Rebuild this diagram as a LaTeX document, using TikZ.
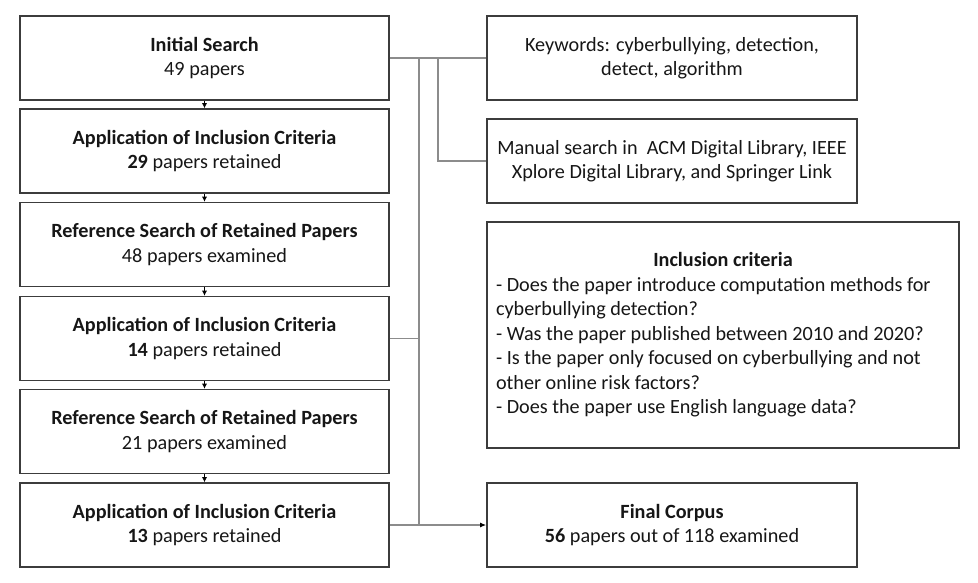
\documentclass[tikz,border=0pt]{standalone}
\usepackage{fontspec}
\setmainfont{Carlito}
\usetikzlibrary{arrows.meta}
\definecolor{boxline}{HTML}{3C3C3C}
\definecolor{linkline}{HTML}{8C8C8C}
\definecolor{txt}{HTML}{161616}
\begin{document}
\begin{tikzpicture}[x=1pt,y=-1pt,
  boxtext/.style={text=txt, font=\fontsize{20.2}{24.5}\selectfont, inner sep=0pt},
  stage/.style={boxtext, draw=boxline, line width=1.6pt, minimum width=369pt, minimum height=84pt,
    align=center},
  side/.style={boxtext, draw=boxline, line width=1.6pt, minimum width=370pt, minimum height=84pt,
    align=center},
  link/.style={draw=linkline, line width=1.2pt},
  flow/.style={draw=black, line width=0.6pt, -{Latex[length=5pt,width=5pt]}},
  endarrow/.style={draw=linkline, line width=1.2pt, -{Latex[length=6pt,width=5pt,fill=black,color=black]}}
]
\useasboundingbox (0,0) rectangle (978,582);

% search pipeline
\node[stage] (s1) at (204.5,58)    {\textbf{Initial Search}\\49 papers};
\node[stage] (s2) at (204.5,151)   {\textbf{Application of Inclusion Criteria}\\\textbf{29} papers retained};
\node[stage] (s3) at (204.5,244.5) {\textbf{Reference Search of Retained Papers}\\48 papers examined};
\node[stage] (s4) at (204.5,338.5) {\textbf{Application of Inclusion Criteria}\\\textbf{14} papers retained};
\node[stage] (s5) at (204.5,431.5) {\textbf{Reference Search of Retained Papers}\\21 papers examined};
\node[stage] (s6) at (204.5,525)   {\textbf{Application of Inclusion Criteria}\\\textbf{13} papers retained};

% side notes
\node[side] (kw) at (672,58)  {Keywords: cyberbullying, detection,\\detect, algorithm};
\node[side] (ms) at (672,161) {Manual search in\ \ ACM Digital Library, IEEE\\Xplore Digital Library, and Springer Link};
\node[boxtext, draw=boxline, line width=1.6pt, minimum height=226pt, text width=454pt,
      inner xsep=9pt, align=flush left] (ic) at (723,335)
  {\makebox[454pt][c]{\textbf{Inclusion criteria}}\\
   - Does the paper introduce computation methods for\\
   cyberbullying detection?\\
   - Was the paper published between 2010 and 2020?\\
   - Is the paper only focused on cyberbullying and not\\
   other online risk factors?\\
   - Does the paper use English language data?};
\node[side] (fc) at (672,525) {\textbf{Final Corpus}\\\textbf{56} papers out of 118 examined};

% step arrows
\draw[flow] (s1.south) -- (s2.north);
\draw[flow] (s2.south) -- (s3.north);
\draw[flow] (s3.south) -- (s4.north);
\draw[flow] (s4.south) -- (s5.north);
\draw[flow] (s5.south) -- (s6.north);

% connectors
\coordinate (j1) at (419,58);
\coordinate (j2) at (438,58);
\coordinate (j4) at (419,338.5);
\coordinate (j6) at (419,525);
\draw[link] (s1.east) -- (kw.west);
\draw[link] (j1) -- (j6);
\draw[link] (j2) |- (ms.west);
\draw[link] (s4.east) -- (j4);
\draw[endarrow] (s6.east) -- (fc.west);
\end{tikzpicture}
\end{document}
